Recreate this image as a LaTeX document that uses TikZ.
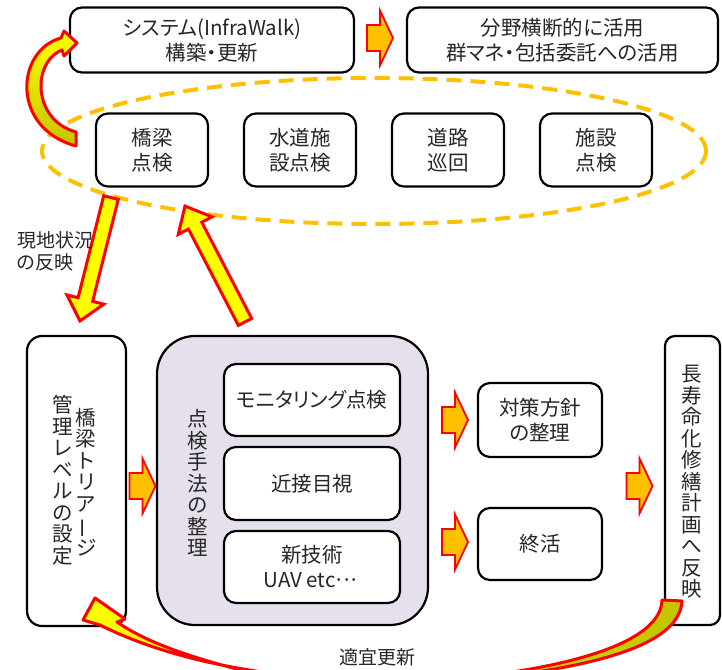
\documentclass[tikz,border=0pt]{standalone}
\usepackage{fontspec}
\setmainfont{Noto Sans CJK JP}[RawFeature=+palt]
\usepackage{graphicx}
\usetikzlibrary{calc}
\definecolor{aorange}{RGB}{255,192,0}
\definecolor{ared}{RGB}{255,0,0}
\definecolor{ayellow}{RGB}{255,255,0}
\definecolor{aolive}{RGB}{196,196,0}
\definecolor{lav}{RGB}{229,224,236}
\definecolor{txt}{RGB}{38,38,38}
\newcommand\vbar{\rotatebox[origin=c]{90}{ー}}
\newcommand\fatarrow[2]{%
  \coordinate (#2b) at ($(#2)!22pt!(#1)$);
  \draw[fatarr] ($(#1)!7.5pt!90:(#2)$) -- ($(#2b)!7.5pt!90:(#2)$) -- ($(#2b)!19pt!90:(#2)$) -- (#2) -- ($(#2b)!19pt!-90:(#2)$) -- ($(#2b)!7.5pt!-90:(#2)$) -- ($(#1)!7.5pt!-90:(#2)$) -- cycle;}
\tikzset{
  box/.style={draw=black, line width=2.2pt, rounded corners=12pt, fill=white, inner sep=0pt, align=center, text=txt, font=\fontsize{20.5}{25}\selectfont},
  vt/.style={inner sep=0pt, align=center, text=txt, font=\fontsize{20.5}{21.5}\selectfont},
  lbl/.style={inner sep=0pt, align=left, text=txt, font=\fontsize{19}{22}\selectfont},
  fatarr/.style={draw=ared, fill=ayellow, line width=3pt, line join=miter},
  curvarr/.style={draw=ared, line width=3pt, line join=round},
  barrow/.pic={\draw[draw=ared, fill=aorange, line width=1.8pt, line join=miter] (-13,-13) -- (0,-13) -- (0,-27.5) -- (13,0) -- (0,27.5) -- (0,13) -- (-13,13) -- cycle;}
}
\begin{document}
\begin{tikzpicture}[x=1pt,y=-1pt]
\useasboundingbox (0,0) rectangle (722,669);
\clip (0,0) rectangle (722,669);
% dashed ellipse
\draw[aorange, line width=4pt, dash pattern=on 15pt off 9pt] (374,151) ellipse [x radius=332pt, y radius=73pt];
% top row
\node[box, minimum width=284pt, minimum height=65pt] (sys) at (212,40) {システム(InfraWalk)\\構築・更新};
\node[box, minimum width=311pt, minimum height=65pt] (use) at (562.5,40) {分野横断的に活用\\群マネ・包括委託への活用};
\pic at (380,38) {barrow};
% inspection boxes
\node[box, minimum width=112pt, minimum height=73pt] (k1) at (152,150) {橋梁\\点検};
\node[box, minimum width=112pt, minimum height=73pt] (k2) at (300,150) {水道施\\設点検};
\node[box, minimum width=112pt, minimum height=73pt] (k3) at (448,150) {道路\\巡回};
\node[box, minimum width=112pt, minimum height=73pt] (k4) at (596,150) {施設\\点検};
% bottom section
\node[box, rounded corners=15pt, minimum width=99pt, minimum height=290pt] (mgmt) at (76.5,481) {};
\node[vt] (mgmtA) at (86,482) {橋\\梁\\ト\\リ\\ア\\\vbar\\ジ};
\node[vt] (mgmtB) at (63,480) {管\\理\\レ\\ベ\\ル\\の\\設\\定};
\node[box, fill=lav, rounded corners=38pt, minimum width=271pt, minimum height=289pt] (meth) at (292.5,480.5) {};
\node[vt] (methT) at (198,483) {点\\検\\手\\法\\の\\整\\理};
\node[box, minimum width=176pt, minimum height=72pt] (mon) at (312,400) {モニタリング点検};
\node[box, minimum width=176pt, minimum height=73pt] (kin) at (312,483.5) {近接目視};
\node[box, minimum width=176pt, minimum height=72pt] (new) at (312,567) {新技術\\UAV etc\kern-2pt·\kern-4pt·\kern-4pt·};
\node[box, minimum width=124pt, minimum height=74pt] (tai) at (540,420) {対策方針\\の整理};
\node[box, minimum width=124pt, minimum height=72pt] (shu) at (540,544) {終活};
\node[box, rounded corners=10pt, minimum width=55pt, minimum height=289pt] (plan) at (692.5,480.5) {};
\node[vt] (planT) at (692,482) {長\\寿\\命\\化\\修\\繕\\計\\画\\へ\\反\\映};
\pic at (142.5,486) {barrow};
\pic at (455,420) {barrow};
\pic at (455,542) {barrow};
\pic at (639.5,486) {barrow};
% big straight arrows
\coordinate (aT) at ($(k1.south)+(-41,10)$);
\coordinate (aH) at ($(mgmt.north)+(3.5,-14)$);
\coordinate (bT) at ($(meth.north)+(-47.5,-13)$);
\coordinate (bH) at ($(k1.south)+(33,18.5)$);
\fatarrow{aT}{aH}
\fatarrow{bT}{bH}
% curved arrows
\path[curvarr, top color=ayellow, middle color=ayellow, bottom color=aolive]
  (77,43) -- (64,31) -- (61,38) .. controls (16,50) and (10,128) .. (76,146)
  -- (76,132) .. controls (32,120) and (32,62) .. (62,50) -- (64,56) -- cycle;
\path[curvarr, left color=ayellow, right color=aolive]
  (95,598) -- (125,619) -- (117,622)
  .. controls (150,645) and (200,660) .. (260,675)
  .. controls (340,695) and (660,680) .. (662,600)
  -- (682,601)
  .. controls (680,635) and (630,655) .. (560,668)
  .. controls (480,683) and (250,700) .. (100,625)
  -- (83,620) -- cycle;
% labels
\node[lbl, anchor=west] (genchi) at (17,251) {現地状況\\の反映};
\node[vt, font=\fontsize{19}{22}\selectfont] (tekigi) at (377,657) {適宜更新};
\end{tikzpicture}
\end{document}
